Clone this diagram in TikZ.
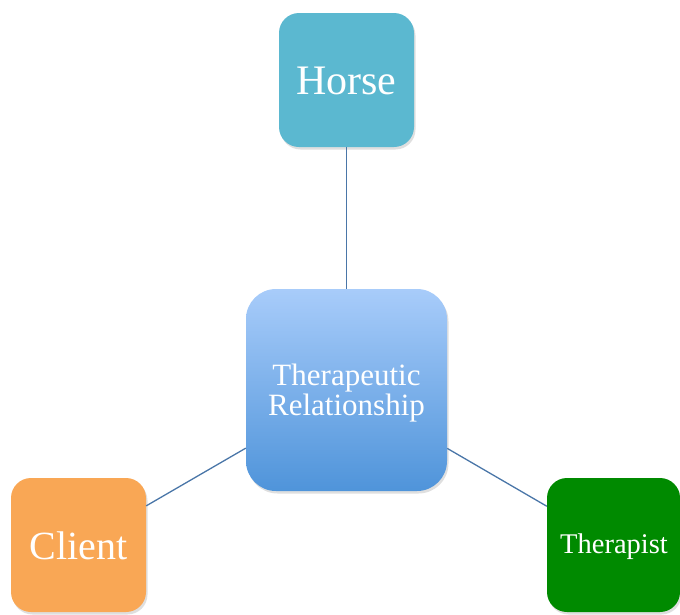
\documentclass[tikz,border=0pt]{standalone}
\usepackage{fontspec}
\setmainfont{Liberation Serif}
\usetikzlibrary{shadows}
\definecolor{horsec}{HTML}{5BB8D0}
\definecolor{clientc}{HTML}{F9A755}
\definecolor{therc}{HTML}{008A00}
\definecolor{ctop}{HTML}{A8CCFA}
\definecolor{cbot}{HTML}{4F94DA}
\definecolor{linkc}{HTML}{4A76A8}
\tikzset{
  box/.style={rounded corners=20pt, inner sep=0pt, text=white, align=center,
    drop shadow={opacity=0.25, shadow xshift=1.5pt, shadow yshift=-2.5pt}},
  link/.style={draw=linkc, line width=1.3pt}
}
\begin{document}
\begin{tikzpicture}[x=1pt,y=-1pt]
\useasboundingbox (0,0) rectangle (680,614);
\node[box, fill=horsec, minimum width=135pt, minimum height=134pt] (horse) at (346.5,80) {};
\node[text=white, font=\fontsize{42}{46}\selectfont] (horsel) at (346.5,81) {Horse};
\node[box, rounded corners=30pt, top color=ctop, bottom color=cbot,
  minimum width=201pt, minimum height=202pt] (rel) at (346.5,390) {};
\node[text=white, align=center, font=\fontsize{31}{30}\selectfont] (rell) at (346.5,393) {Therapeutic\\Relationship};
\node[box, fill=clientc, minimum width=135pt, minimum height=134pt] (client) at (78.5,545) {};
\node[text=white, font=\fontsize{40}{44}\selectfont] (clientl) at (78.5,546) {Client};
\node[box, fill=therc, minimum width=133pt, minimum height=134pt] (ther) at (613.5,545) {};
\node[text=white, font=\fontsize{28.5}{30}\selectfont] (therl) at (614,547) {Therapist};
\draw[link] (horse) -- (rel);
\draw[link] (client) -- (rel);
\draw[link] (ther) -- (rel);
\end{tikzpicture}
\end{document}
